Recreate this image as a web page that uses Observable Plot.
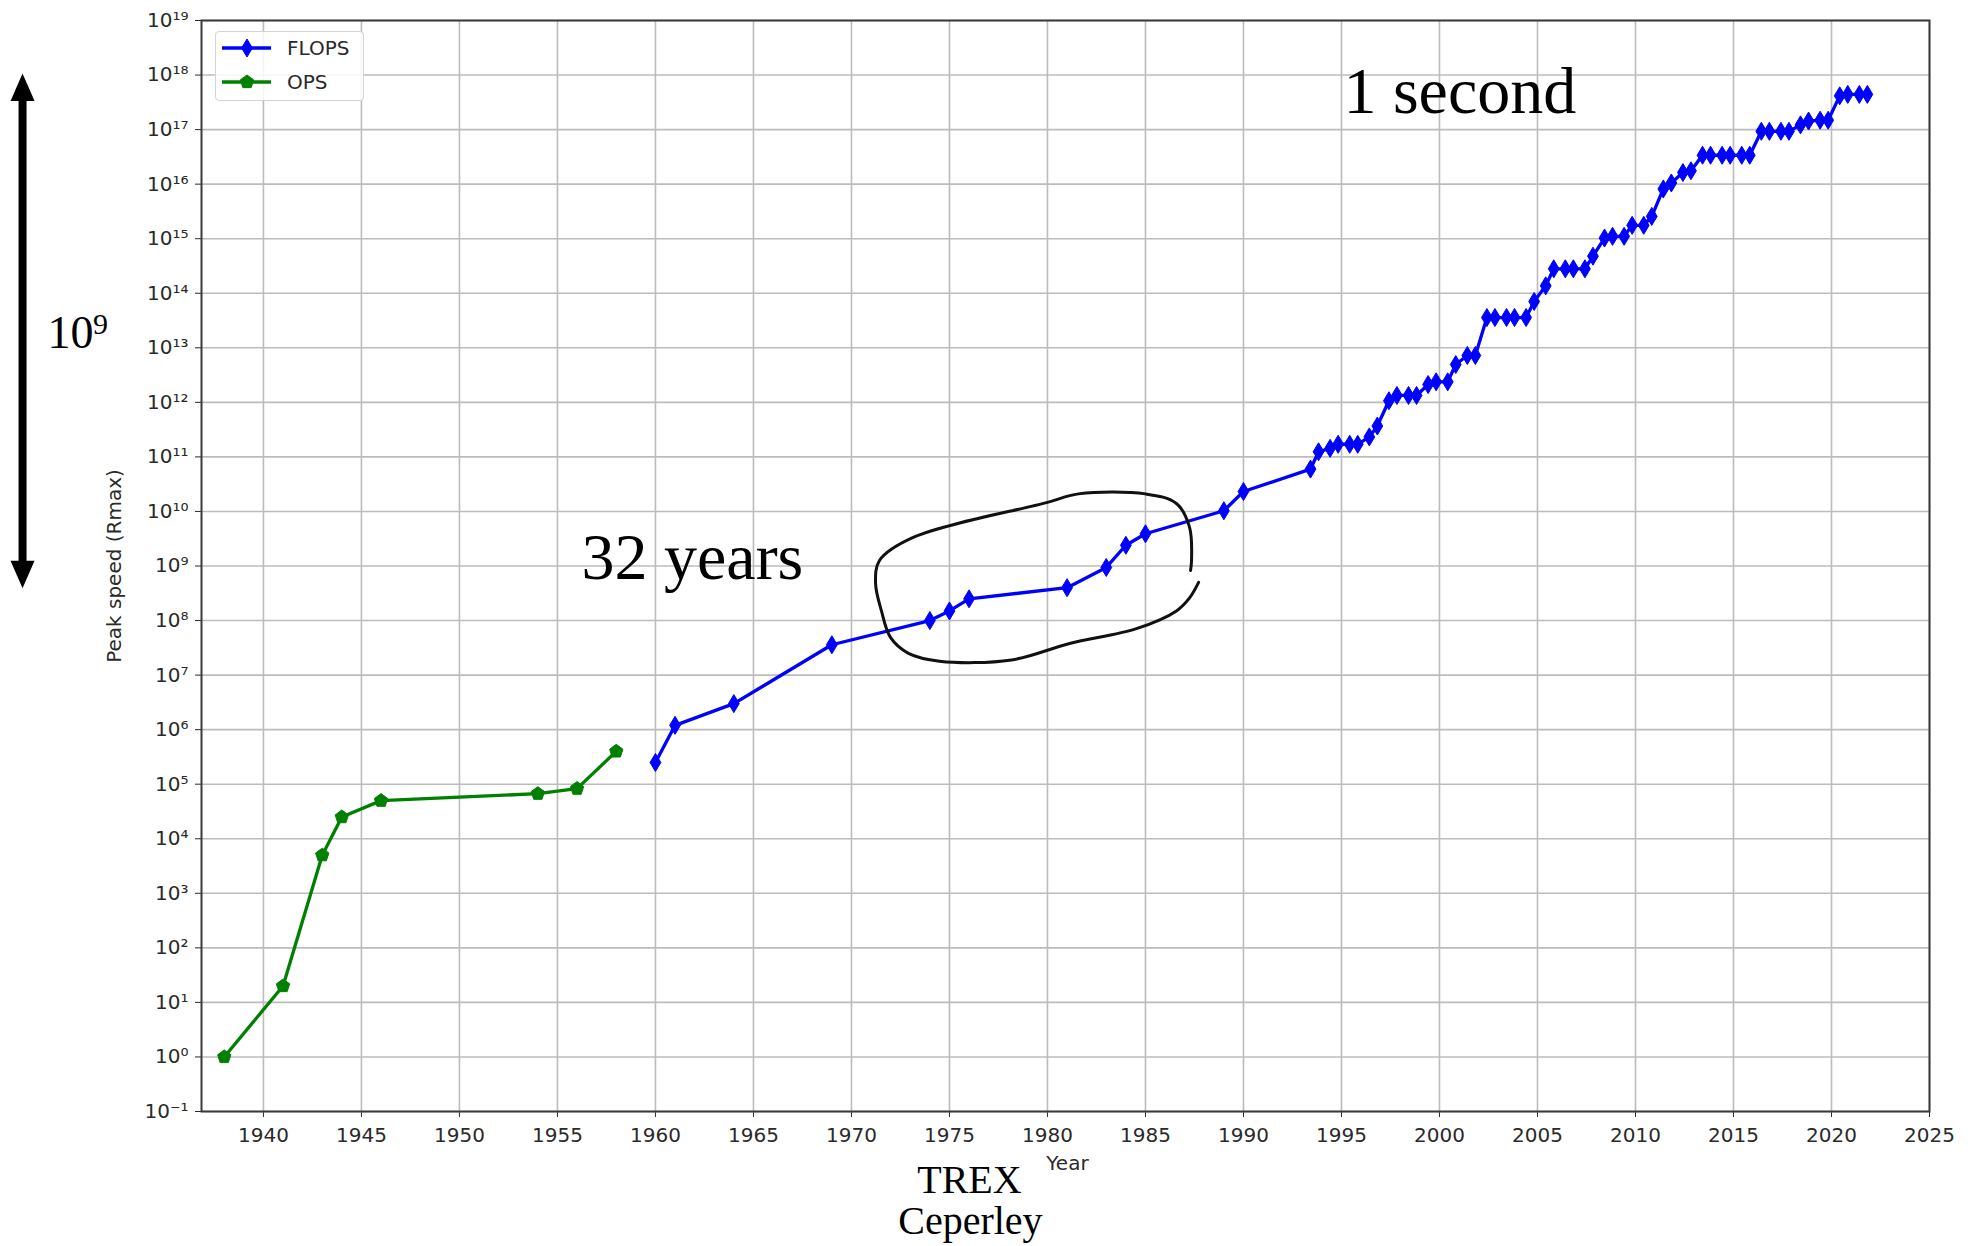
<!DOCTYPE html>
<html>
<head>
<meta charset="utf-8">
<script src="https://cdn.jsdelivr.net/npm/d3@7"></script>
<script src="https://cdn.jsdelivr.net/npm/@observablehq/plot@0.6"></script>
<style>
  html, body { margin: 0; padding: 0; background: #fff; }
  #chart { position: relative; width: 1977px; height: 1246px; }
  #chart svg { display: block; }
  #legend {
    position: absolute; left: 215px; top: 31px; width: 147px; height: 68px;
    border: 1.5px solid #d4d4d4; border-radius: 4px; background: rgba(255,255,255,0.85);
  }
</style>
</head>
<body>
<div id="chart"></div>
<script>
// Record single-machine speeds: integer-operation machines before 1960,
// floating-point machines afterwards (TOP500 #1 Rmax, June and November lists from 1993).
const opsYears  = [1938, 1941, 1943, 1944, 1946, 1954, 1956, 1958];
const opsValues = [1, 20, 5e3, 2.5e4, 5e4, 6.7e4, 8.3e4, 4e5];

const flopsYears = [
  1960, 1961, 1964, 1969, 1974, 1975, 1976, 1981, 1983, 1984, 1985, 1989, 1990,
  1993.42, 1993.83, 1994.42, 1994.83, 1995.42, 1995.83, 1996.42, 1996.83,
  1997.42, 1997.83, 1998.42, 1998.83, 1999.42, 1999.83, 2000.42, 2000.83,
  2001.42, 2001.83, 2002.42, 2002.83, 2003.42, 2003.83, 2004.42, 2004.83,
  2005.42, 2005.83, 2006.42, 2006.83, 2007.42, 2007.83, 2008.42, 2008.83,
  2009.42, 2009.83, 2010.42, 2010.83, 2011.42, 2011.83, 2012.42, 2012.83,
  2013.42, 2013.83, 2014.42, 2014.83, 2015.42, 2015.83, 2016.42, 2016.83,
  2017.42, 2017.83, 2018.42, 2018.83, 2019.42, 2019.83, 2020.42, 2020.83,
  2021.42, 2021.83
];
const flopsValues = [
  2.5e5, 1.2e6, 3e6, 3.6e7, 1e8, 1.5e8, 2.5e8, 4e8, 9.41e8, 2.4e9, 3.9e9, 1.03e10, 2.32e10,
  5.97e10, 1.242e11, 1.434e11, 1.704e11, 1.704e11, 1.704e11, 2.324e11, 3.682e11,
  1.068e12, 1.338e12, 1.338e12, 1.338e12, 2.121e12, 2.379e12, 2.379e12, 4.938e12,
  7.226e12, 7.226e12, 3.586e13, 3.586e13, 3.586e13, 3.586e13, 3.586e13, 7.072e13,
  1.368e14, 2.806e14, 2.806e14, 2.806e14, 2.806e14, 4.782e14, 1.026e15, 1.105e15,
  1.105e15, 1.759e15, 1.759e15, 2.566e15, 8.162e15, 1.051e16, 1.632e16, 1.759e16,
  3.386e16, 3.386e16, 3.386e16, 3.386e16, 3.386e16, 3.386e16, 9.301e16, 9.301e16,
  9.301e16, 9.301e16, 1.223e17, 1.435e17, 1.486e17, 1.486e17, 4.155e17, 4.420e17,
  4.420e17, 4.420e17
];

// Axis ticks
const xTicks = [1940, 1945, 1950, 1955, 1960, 1965, 1970, 1975, 1980, 1985, 1990,
                1995, 2000, 2005, 2010, 2015, 2020, 2025];
const yExponents = [-1, 0, 1, 2, 3, 4, 5, 6, 7, 8, 9, 10, 11, 12, 13, 14, 15, 16, 17, 18, 19];
const yTicks = yExponents.map(e => +("1e" + e));

// Hand-drawn loop around the 1970s–80s stretch (year, speed)
const loopYears  = [1987.71, 1987.25, 1986.58, 1984.54, 1981.13, 1978.17, 1974.49, 1972.91, 1971.99,
                    1971.53, 1971.23, 1971.43, 1973.12, 1979.95, 1981.58, 1985.00, 1986.58, 1987.25,
                    1987.35, 1987.30];
const loopValues = [5.0e8, 2.6e8, 1.5e8, 7.1e7, 3.8e7, 1.9e7, 1.8e7, 2.5e7, 4.9e7,
                    1.5e8, 4.8e8, 1.26e9, 3.3e9, 1.45e10, 2.1e10, 2.1e10, 1.4e10, 5.1e9,
                    1.26e9, 8.3e8];

// Annotation anchors (year, speed)
const notes = [
  {text: "1 second", year: 1995.10, value: 2.04e17, size: 66, anchor: "start"},
  {text: "32 years", year: 1956.23, value: 5.9e8,   size: 66, anchor: "start"},
  {text: "10",       year: 1928.98, value: 1e13,    size: 46, anchor: "start"},
  {text: "9",        year: 1931.30, value: 1.8e13,  size: 30, anchor: "start"},
  {text: "TREX",     year: 1976.02, value: 3.27e-3, size: 40, anchor: "middle"},
  {text: "Ceperley", year: 1976.07, value: 5.8e-4,  size: 40, anchor: "middle"}
];
const spanArrow = {year: 1927.71, top: 1.07e18, bottom: 3.9e8, shaftTop: 6e17, shaftBottom: 7e8};
const axisTitles = {x: {text: "Year", year: 1981.02, value: 8.3e-3},
                    y: {text: "Peak speed (Rmax)", year: 1932.71, value: 1e9}};

const flopsColor = "#0000ff";
const opsColor = "#008000";

const ops = opsYears.map((year, i) => ({year, value: opsValues[i]}));
const flops = flopsYears.map((year, i) => ({year, value: flopsValues[i]}));
const loop = loopYears.map((year, i) => ({year, value: loopValues[i]}));

// Marker shapes
const thinDiamond = {
  draw(ctx, size) {
    const r = Math.sqrt(size / Math.PI), w = 0.6 * r;
    ctx.moveTo(0, -r); ctx.lineTo(w, 0); ctx.lineTo(0, r); ctx.lineTo(-w, 0); ctx.closePath();
  }
};
const pentagon = {
  draw(ctx, size) {
    const r = Math.sqrt(size / Math.PI);
    for (let k = 0; k < 5; ++k) {
      const a = -Math.PI / 2 + k * 2 * Math.PI / 5;
      const px = r * Math.cos(a), py = r * Math.sin(a);
      k ? ctx.lineTo(px, py) : ctx.moveTo(px, py);
    }
    ctx.closePath();
  }
};
const headUp = {
  draw(ctx, size) {
    const r = Math.sqrt(size / Math.PI);
    ctx.moveTo(0, 0); ctx.lineTo(r, 2.3 * r); ctx.lineTo(-r, 2.3 * r); ctx.closePath();
  }
};
const headDown = {
  draw(ctx, size) {
    const r = Math.sqrt(size / Math.PI);
    ctx.moveTo(0, 0); ctx.lineTo(r, -2.3 * r); ctx.lineTo(-r, -2.3 * r); ctx.closePath();
  }
};

const supers = {"-": "\u207B", "0": "\u2070", "1": "\u00B9", "2": "\u00B2", "3": "\u00B3", "4": "\u2074",
                "5": "\u2075", "6": "\u2076", "7": "\u2077", "8": "\u2078", "9": "\u2079"};
const powerLabel = d => "10" + String(Math.round(Math.log10(d))).split("").map(c => supers[c]).join("");

const serif = "Liberation Serif, Times New Roman, serif";

const chart = Plot.plot({
  width: 1977,
  height: 1246,
  marginLeft: 201,
  marginRight: 48,
  marginTop: 20,
  marginBottom: 135,
  style: {fontFamily: "DejaVu Sans", fontSize: "20px", color: "#2a2a2a", background: "#fff", overflow: "visible"},
  x: {domain: [1936.84, 2025], ticks: xTicks, tickFormat: d3.format("d"), tickSize: 6, tickPadding: 10, label: null},
  y: {type: "log", domain: [0.1, 1e19], ticks: yTicks, tickFormat: powerLabel, tickSize: 6, tickPadding: 7, label: null},
  marks: [
    Plot.ruleX(xTicks, {stroke: "#bcbcbc", strokeWidth: 1.6}),
    Plot.ruleY(yTicks, {stroke: "#bcbcbc", strokeWidth: 1.6}),
    Plot.frame({stroke: "#3a3a3a", strokeWidth: 2}),
    Plot.line(ops, {x: "year", y: "value", stroke: opsColor, strokeWidth: 3.3}),
    Plot.dot(ops, {x: "year", y: "value", symbol: pentagon, r: 7, fill: opsColor, stroke: opsColor, strokeWidth: 1}),
    Plot.line(flops, {x: "year", y: "value", stroke: flopsColor, strokeWidth: 3.3}),
    Plot.dot(flops, {x: "year", y: "value", symbol: thinDiamond, r: 9, fill: flopsColor, stroke: flopsColor, strokeWidth: 1}),
    Plot.line(loop, {x: "year", y: "value", curve: "catmull-rom", stroke: "#111", strokeWidth: 3}),
    Plot.ruleX([spanArrow], {x: "year", y1: "shaftTop", y2: "shaftBottom", stroke: "#000", strokeWidth: 8}),
    Plot.dot([spanArrow], {x: "year", y: "top", symbol: headUp, r: 12, fill: "#000", stroke: "none"}),
    Plot.dot([spanArrow], {x: "year", y: "bottom", symbol: headDown, r: 12, fill: "#000", stroke: "none"}),
    Plot.text(notes, {x: "year", y: "value", text: "text", fontSize: d => d.size, textAnchor: "start",
                      filter: d => d.anchor === "start", lineAnchor: "bottom", fontFamily: serif, fill: "#000"}),
    Plot.text(notes, {x: "year", y: "value", text: "text", fontSize: d => d.size, textAnchor: "middle",
                      filter: d => d.anchor === "middle", lineAnchor: "bottom", fontFamily: serif, fill: "#000"}),
    Plot.text([axisTitles.x], {x: "year", y: "value", text: "text", fontSize: 20, textAnchor: "middle",
                               lineAnchor: "bottom", fill: "#2a2a2a"}),
    Plot.text([axisTitles.y], {x: "year", y: "value", text: "text", fontSize: 20, textAnchor: "middle",
                               lineAnchor: "bottom", rotate: -90, fill: "#2a2a2a"})
  ]
});
document.getElementById("chart").appendChild(chart);

// Legend: line swatch with its marker, then the series name
const legend = d3.select("#chart").append("div").attr("id", "legend");
const lsvg = legend.append("svg").attr("width", 147).attr("height", 68);
const entries = [
  {name: "FLOPS", color: flopsColor, symbol: thinDiamond, r: 9},
  {name: "OPS", color: opsColor, symbol: pentagon, r: 7}
];
entries.forEach((e, i) => {
  const g = lsvg.append("g").attr("transform", `translate(0,${16 + i * 34})`);
  g.append("line").attr("x1", 6).attr("x2", 55).attr("stroke", e.color).attr("stroke-width", 3.3);
  const p = d3.path();
  e.symbol.draw(p, e.r * e.r * Math.PI);
  g.append("path").attr("d", p.toString()).attr("transform", "translate(31,0)")
    .attr("fill", e.color).attr("stroke", e.color);
  g.append("text").attr("x", 71).attr("dy", "0.35em").attr("fill", "#2a2a2a")
    .style("font", "20px 'DejaVu Sans'").text(e.name);
});
</script>
</body>
</html>
